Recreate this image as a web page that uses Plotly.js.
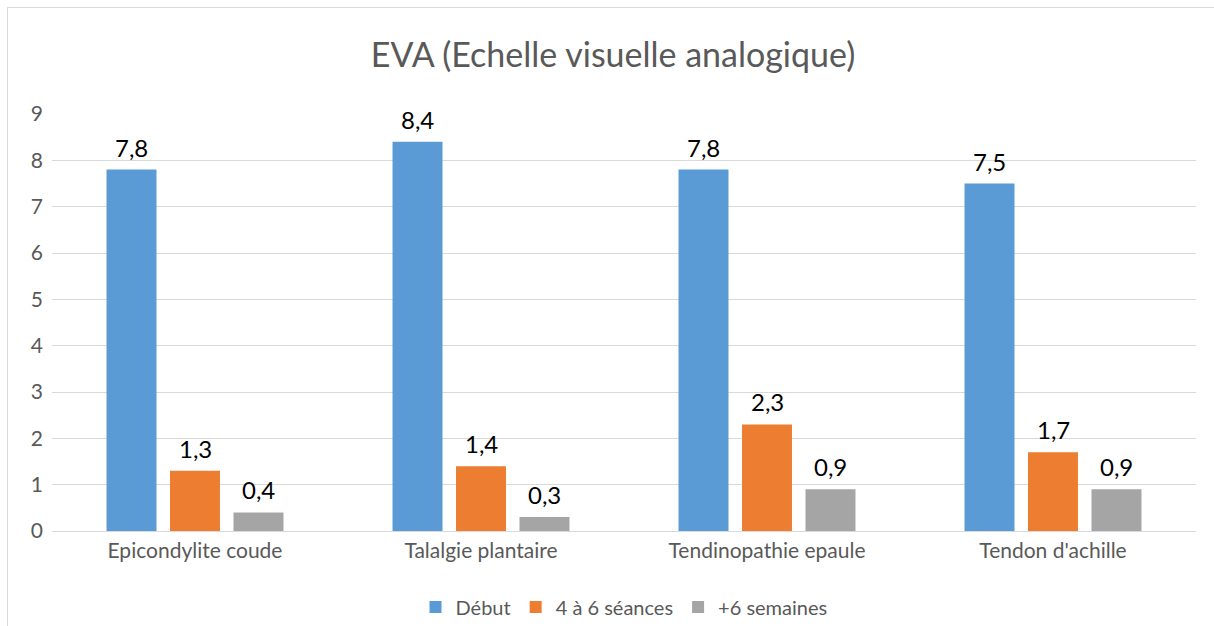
<!DOCTYPE html>
<html>
<head>
<meta charset="utf-8">
<script src="https://cdn.plot.ly/plotly-3.0.1.min.js"></script>
<style>
html,body{margin:0;padding:0;background:#fff;}
#wrap{position:relative;width:1214px;height:626px;overflow:hidden;}
#frame{position:absolute;left:7px;top:7px;width:1220px;height:640px;border:1px solid #d9d9d9;box-sizing:border-box;pointer-events:none;}
#chart{position:absolute;left:0;top:0;width:1214px;height:626px;}
</style>
</head>
<body>
<div id="wrap"><div id="chart"></div><div id="frame"></div></div>
<script>
const categories = ["Epicondylite coude", "Talalgie plantaire", "Tendinopathie epaule", "Tendon d'achille"];
const debut = [7.8, 8.4, 7.8, 7.5];
const seances = [1.3, 1.4, 2.3, 1.7];
const semaines = [0.4, 0.3, 0.9, 0.9];
const seriesNames = ["Début", "4 à 6 séances", "+6 semaines"];
const yTicks = [0, 1, 2, 3, 4, 5, 6, 7, 8, 9];

const colors = ["#5b9bd5", "#ed7d31", "#a5a5a5"];
const font = "Lato, 'Open Sans', sans-serif";
const allSeries = [debut, seances, semaines];

const W = 1214, H = 626;
const margin = {l: 52, r: 18, t: 114, b: 95, autoexpand: false};
const bargap = 0.334;

const traces = allSeries.map((vals, i) => ({
  type: "bar",
  name: seriesNames[i],
  x: categories,
  y: vals,
  marker: {color: colors[i]},
  hoverinfo: "none"
}));

// data labels as annotations placed on the data coordinates
const plotW = W - margin.l - margin.r;
const slot = plotW / categories.length * (1 - bargap) / allSeries.length;
const annotations = [];
allSeries.forEach((vals, i) => {
  vals.forEach((v, j) => {
    annotations.push({
      x: categories[j], y: v, xref: "x", yref: "y",
      text: v.toFixed(1).replace(".", ","),
      showarrow: false,
      xanchor: "center", yanchor: "bottom",
      xshift: (i - (allSeries.length - 1) / 2) * slot,
      yshift: 6,
      font: {family: font, size: 24, color: "#000000"}
    });
  });
});

const layout = {
  width: W,
  height: H,
  margin: margin,
  paper_bgcolor: "rgba(0,0,0,0)",
  plot_bgcolor: "#ffffff",
  separators: ", ",
  barmode: "group",
  bargap: bargap,
  bargroupgap: 0.213,
  showlegend: true,
  annotations: annotations,
  title: {
    text: "EVA (Echelle visuelle analogique)",
    font: {family: font, size: 34, color: "#595959"},
    x: 0.505, xanchor: "center",
    y: 0.912, yanchor: "middle", yref: "container"
  },
  xaxis: {
    type: "category",
    automargin: false,
    tickfont: {family: font, size: 21, color: "#595959"},
    showgrid: false,
    showline: false,
    ticks: "",
    ticklabelstandoff: 5,
    fixedrange: true
  },
  yaxis: {
    range: [0, 9],
    automargin: false,
    tickvals: yTicks,
    tickfont: {family: font, size: 21, color: "#595959"},
    gridcolor: "#d9d9d9",
    gridwidth: 1,
    zeroline: true,
    zerolinecolor: "#d9d9d9",
    zerolinewidth: 1,
    showline: false,
    ticks: "",
    ticklabelstandoff: 8,
    fixedrange: true
  },
  legend: {
    orientation: "h",
    x: 0.5, xanchor: "center",
    y: -0.182, yanchor: "middle",
    font: {family: font, size: 20, color: "#595959"},
    itemwidth: 30,
    tracegroupgap: 0,
    traceorder: "normal"
  }
};

Plotly.newPlot("chart", traces, layout, {displayModeBar: false, staticPlot: true});
</script>
</body>
</html>
